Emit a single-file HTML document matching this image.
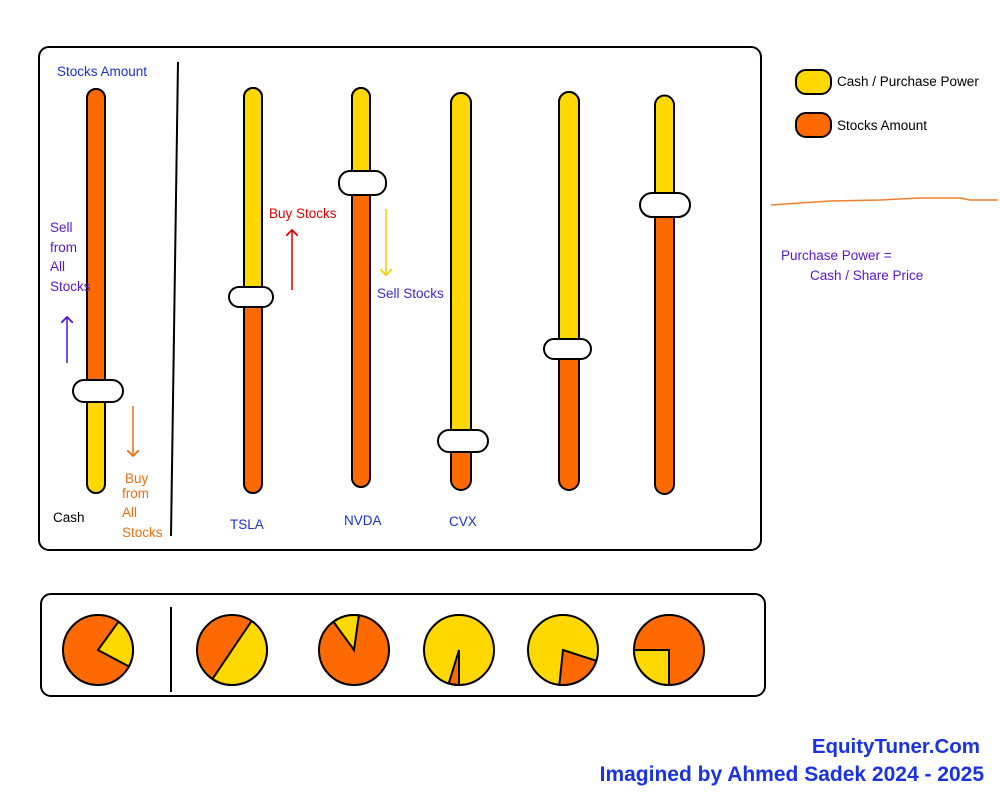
<!DOCTYPE html>
<html><head><style>body{margin:0;background:#fff}svg{display:block}text{font-family:"Liberation Sans",sans-serif}</style></head><body>
<svg width="1000" height="800" viewBox="0 0 1000 800" xmlns="http://www.w3.org/2000/svg">
<defs><marker id="a" markerWidth="8" markerHeight="8" refX="4" refY="4" orient="auto"><path d="M0,0 L4,4 L0,8" fill="none" stroke="context-stroke" stroke-width="1.2"/></marker></defs>
<rect x="39" y="47" width="722" height="503" rx="10" fill="#fff" stroke="#000" stroke-width="2"/>
<rect x="41" y="594" width="724" height="102" rx="10" fill="#fff" stroke="#000" stroke-width="2"/>
<line x1="178" y1="62" x2="171" y2="536" stroke="#000" stroke-width="2"/>
<line x1="171" y1="607" x2="171" y2="692" stroke="#000" stroke-width="2"/>
<g stroke="#000" stroke-width="2">
<rect x="87" y="89" width="18" height="404" rx="9" fill="#FFD800"/>
<path d="M87,391 V98 a9,9 0 0 1 18,0 V391 Z" fill="#FF6A00"/>
<rect x="73" y="380" width="50" height="22" rx="11" fill="#fff"/>
<rect x="244" y="88" width="18" height="405" rx="9" fill="#FF6A00"/>
<path d="M244,297 V97 a9,9 0 0 1 18,0 V297 Z" fill="#FFD800"/>
<rect x="229" y="287" width="44" height="20" rx="10" fill="#fff"/>
<rect x="352" y="88" width="18" height="399" rx="9" fill="#FF6A00"/>
<path d="M352,183 V97 a9,9 0 0 1 18,0 V183 Z" fill="#FFD800"/>
<rect x="339" y="171" width="47" height="24" rx="11" fill="#fff"/>
<rect x="451" y="93" width="20" height="397" rx="10" fill="#FF6A00"/>
<path d="M451,441 V103 a10,10 0 0 1 20,0 V441 Z" fill="#FFD800"/>
<rect x="438" y="430" width="50" height="22" rx="11" fill="#fff"/>
<rect x="559" y="92" width="20" height="398" rx="10" fill="#FF6A00"/>
<path d="M559,349 V102 a10,10 0 0 1 20,0 V349 Z" fill="#FFD800"/>
<rect x="544" y="339" width="47" height="20" rx="10" fill="#fff"/>
<rect x="655" y="96" width="19" height="398" rx="9.5" fill="#FF6A00"/>
<path d="M655,205 V105 a9.5,9.5 0 0 1 19,0 V205 Z" fill="#FFD800"/>
<rect x="640" y="193" width="50" height="24" rx="12" fill="#fff"/>
<rect x="796" y="70" width="35" height="24" rx="10" fill="#FFD800"/>
<rect x="796" y="113" width="35" height="24" rx="10" fill="#FF6A00"/>
</g>
<path d="M771,205 L800,203 L830,201 L880,200 L920,198 L960,198 L970,200 L998,200" fill="none" stroke="#F08030" stroke-width="1.5"/>
<g fill="none" stroke-width="1.5">
<line x1="67" y1="363" x2="67" y2="317" stroke="#5010d0" marker-end="url(#a)"/>
<line x1="133" y1="406" x2="133" y2="456" stroke="#E87010" marker-end="url(#a)"/>
<line x1="292" y1="290" x2="292" y2="230" stroke="#E00000" marker-end="url(#a)"/>
<line x1="386" y1="209" x2="386" y2="275" stroke="#F0D000" marker-end="url(#a)"/>
</g>
<g font-size="13.5">
<text x="57" y="76" fill="#1a33d0">Stocks Amount</text>
<text x="53" y="522" fill="#000">Cash</text>
<g fill="#5a18c8"><text x="50" y="232">Sell</text><text x="50" y="252">from</text><text x="50" y="271">All</text><text x="50" y="291">Stocks</text></g>
<g fill="#E87010"><text x="125" y="483">Buy</text><text x="122" y="498">from</text><text x="122" y="517">All</text><text x="122" y="537">Stocks</text></g>
<text x="269" y="218" fill="#E00000">Buy Stocks</text>
<text x="377" y="298" fill="#3a2ad0">Sell Stocks</text>
<text x="230" y="529" fill="#1a33d0">TSLA</text>
<text x="344" y="525" fill="#1a33d0">NVDA</text>
<text x="449" y="526" fill="#1a33d0">CVX</text>
<text x="837" y="86" fill="#000">Cash / Purchase Power</text>
<text x="837" y="130" fill="#000">Stocks Amount</text>
<text x="781" y="260" fill="#5a18c8">Purchase Power =</text>
<text x="810" y="280" fill="#5a18c8">Cash / Share Price</text>
</g>
<g font-weight="bold" fill="#1a33e0" text-anchor="end">
<text x="980" y="753" font-size="20.5">EquityTuner.Com</text>
<text x="984" y="781" font-size="21">Imagined by Ahmed Sadek 2024 - 2025</text>
</g>
<g stroke="#000" stroke-width="2" id="pies"></g>
</svg>
<script>
const P=[[98,"#FF6A00","#FFD800",-54,28],[232,"#FF6A00","#FFD800",-56,124],[354,"#FF6A00","#FFD800",-126,-82],[459,"#FFD800","#FF6A00",90,107],[563,"#FFD800","#FF6A00",18,96],[669,"#FF6A00","#FFD800",90,180]];
const g=document.getElementById('pies'),ns="http://www.w3.org/2000/svg",cy=650,r=35;
for(const [cx,base,w,a0,a1] of P){
const c=document.createElementNS(ns,'circle');c.setAttribute('cx',cx);c.setAttribute('cy',cy);c.setAttribute('r',r);c.setAttribute('fill',base);g.appendChild(c);
const t=x=>x*Math.PI/180,x0=cx+r*Math.cos(t(a0)),y0=cy+r*Math.sin(t(a0)),x1=cx+r*Math.cos(t(a1)),y1=cy+r*Math.sin(t(a1));
const p=document.createElementNS(ns,'path');p.setAttribute('d',`M${cx},${cy} L${x0},${y0} A${r},${r} 0 ${(a1-a0)>180?1:0} 1 ${x1},${y1} Z`);p.setAttribute('fill',w);g.appendChild(p);}
</script>
</body></html>
